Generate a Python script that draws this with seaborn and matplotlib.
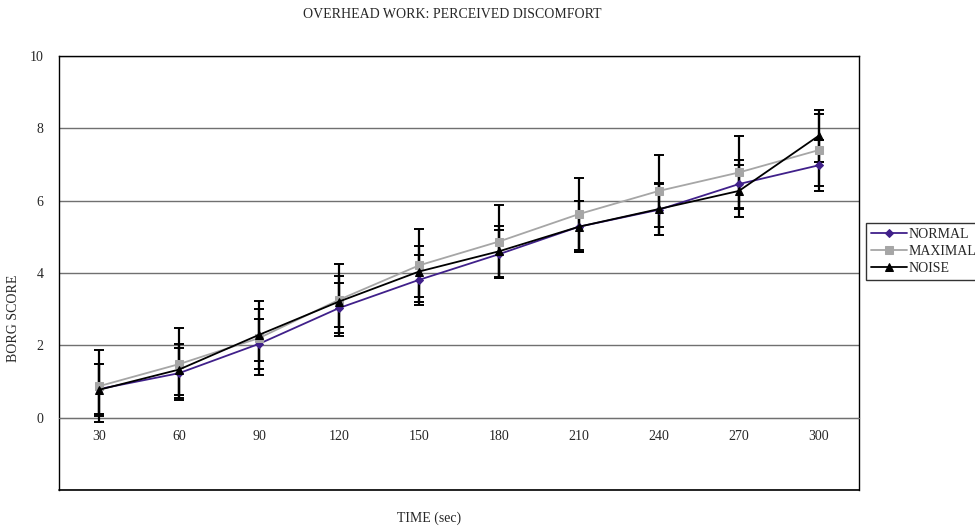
import matplotlib
matplotlib.use("Agg")
import matplotlib.pyplot as plt
import seaborn as sns
import numpy as np
import pandas as pd

time_sec = [30, 60, 90, 120, 150, 180, 210, 240, 270, 300]
normal = [0.79, 1.23, 2.04, 3.03, 3.81, 4.52, 5.28, 5.75, 6.46, 6.98]
maximal = [0.87, 1.48, 2.20, 3.26, 4.21, 4.87, 5.63, 6.27, 6.78, 7.40]
noise = [0.77, 1.33, 2.29, 3.21, 4.04, 4.60, 5.28, 5.77, 6.27, 7.80]
normal_err = [0.69, 0.70, 0.70, 0.70, 0.69, 0.67, 0.70, 0.70, 0.67, 0.70]
maximal_err = [1.00, 1.00, 1.02, 1.00, 1.00, 1.00, 1.00, 1.00, 1.00, 1.00]
noise_err = [0.72, 0.70, 0.72, 0.70, 0.70, 0.70, 0.70, 0.72, 0.72, 0.72]

series = ["NORMAL", "MAXIMAL", "NOISE"]
colors = {"NORMAL": "#40208a", "MAXIMAL": "#a6a6a6", "NOISE": "#000000"}
markers = {"NORMAL": "D", "MAXIMAL": "s", "NOISE": "^"}
msizes = {"NORMAL": 4, "MAXIMAL": 5.5, "NOISE": 6}

df = pd.DataFrame({
    "time": time_sec * 3,
    "score": normal + maximal + noise,
    "err": normal_err + maximal_err + noise_err,
    "series": ["NORMAL"] * 10 + ["MAXIMAL"] * 10 + ["NOISE"] * 10,
})

sns.set_style("white")
plt.rcParams["font.family"] = ["Liberation Serif", "DejaVu Serif"]
plt.rcParams["font.size"] = 10

fig = plt.figure(figsize=(9.75, 5.27), dpi=100)
ax = fig.add_axes([59 / 975, 1 - 490 / 527, 800 / 975, 434 / 527])

# error bars
for s in series:
    d = df[df.series == s]
    ax.errorbar(d["time"], d["score"], yerr=d["err"], fmt="none",
                ecolor="black", elinewidth=1.6, capsize=3.5, capthick=1.4, zorder=3)

for s in series:
    d = df[df.series == s]
    sns.lineplot(data=d, x="time", y="score", ax=ax, color=colors[s],
                 marker=markers[s], markersize=msizes[s], markeredgecolor=colors[s],
                 linewidth=1.3, label=s, zorder=4)

ax.set_xlim(15, 315)
ax.set_ylim(-2, 10)
ax.set_yticks(np.arange(-2, 11, 2))
ax.set_yticklabels([""] + [str(v) for v in range(0, 11, 2)])
ax.set_xticks(time_sec)
ax.set_xticks(np.arange(45, 300, 30), minor=True)
ax.tick_params(axis="x", which="major", length=0, pad=9, labelsize=10)
ax.tick_params(axis="x", which="minor", length=5, direction="out", width=1, color="black")
ax.tick_params(axis="y", length=5, direction="out", width=1, color="black", pad=6, labelsize=10)
ax.yaxis.grid(True, color="#707070", linewidth=1)
ax.set_axisbelow(True)

ax.spines["bottom"].set_position(("data", 0))
ax.spines["bottom"].set_color("#707070")
for side in ["left", "right", "top"]:
    ax.spines[side].set_color("black")
    ax.spines[side].set_linewidth(1)
ax.axhline(-2, color="black", linewidth=1.2, clip_on=False, zorder=5)

ax.set_xlabel("")
ax.set_ylabel("")
fig.text(452 / 975, 1 - 14 / 527, "OVERHEAD WORK: PERCEIVED DISCOMFORT",
         ha="center", va="center", fontsize=10)
fig.text(429 / 975, 1 - 518 / 527, "TIME (sec)", ha="center", va="center", fontsize=10)
fig.text(14 / 975, 1 - 318 / 527, "BORG SCORE", ha="center", va="center",
         rotation=90, fontsize=10)

leg = ax.legend(loc="upper left", bbox_to_anchor=(866 / 975, 1 - 223 / 527),
                bbox_transform=fig.transFigure, frameon=True, fancybox=False,
                edgecolor="black", fontsize=10, handlelength=2.6, handletextpad=0.1,
                borderpad=0.35, labelspacing=0.3, borderaxespad=0)
leg.get_frame().set_linewidth(1)

fig.savefig("out.png", dpi=100)
